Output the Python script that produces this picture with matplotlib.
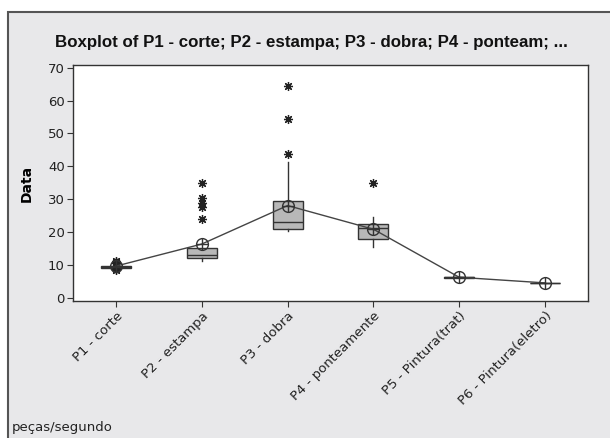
import matplotlib.pyplot as plt
import matplotlib.patches as patches
import numpy as np

categories = ['P1 - corte', 'P2 - estampa', 'P3 - dobra', 'P4 - ponteamente',
              'P5 - Pintura(trat)', 'P6 - Pintura(eletro)']
whislo = [9.1, 11.2, 20.4, 15.6, 6.2, 4.6]
q1 = [9.2, 12.1, 21.0, 17.9, 6.2, 4.6]
med = [9.4, 13.1, 23.1, 21.2, 6.3, 4.6]
q3 = [9.6, 15.3, 29.5, 22.5, 6.3, 4.7]
whishi = [9.8, 15.3, 41.4, 24.7, 6.4, 4.7]
means = [9.7, 16.4, 28.1, 20.9, 6.3, 4.6]
outliers = [[11.4, 10.9, 10.5, 8.4, 8.7],
            [34.9, 30.3, 29.0, 27.8, 23.9],
            [64.4, 54.4, 43.8],
            [34.9],
            [],
            []]
yticks = [0, 10, 20, 30, 40, 50, 60, 70]

stats = []
for i in range(len(categories)):
    stats.append(dict(label=categories[i], whislo=whislo[i], q1=q1[i], med=med[i],
                      q3=q3[i], whishi=whishi[i], fliers=outliers[i], mean=means[i]))

fig = plt.figure(figsize=(6.1, 4.38), dpi=100)
fig.patch.set_facecolor('white')
# grey frame of the Minitab window
frame = patches.Rectangle((8 / 610, -0.01), 1.0, 1 - 12 / 438 + 0.01,
                          transform=fig.transFigure, facecolor='#e8e8ea',
                          edgecolor='#555555', linewidth=1.5, zorder=-5)
fig.patches.append(frame)

ax = fig.add_axes([73 / 610, 1 - 301 / 438, (588 - 73) / 610, (301 - 65) / 438])
ax.set_facecolor('white')
pos = np.arange(1, len(categories) + 1)
ax.bxp(stats, positions=pos, widths=0.35, patch_artist=True, showcaps=False,
       boxprops=dict(facecolor='#b8b8b8', edgecolor='#333333', linewidth=1),
       medianprops=dict(color='#333333', linewidth=1),
       whiskerprops=dict(color='#333333', linewidth=1),
       flierprops=dict(marker=(8, 2, 0), markersize=6.5, markeredgecolor='#222222',
                       markeredgewidth=0.9, linestyle='none'))

# connect means
ax.plot(pos, means, color='#444444', linewidth=1, zorder=3)
ax.plot(pos, means, linestyle='none', marker='o', markersize=8.5, markerfacecolor='none',
        markeredgecolor='#333333', markeredgewidth=1, zorder=4)
ax.plot(pos, means, linestyle='none', marker='+', markersize=8.5,
        markeredgecolor='#333333', markeredgewidth=1, zorder=4)

ax.set_xlim(0.5, 6.5)
ax.set_ylim(-0.9, 70.8)
ax.set_yticks(yticks)
ax.set_xticks(pos)
ax.set_xticklabels(categories, rotation=45, ha='right', rotation_mode='anchor',
                   fontsize=9.5)
for tl in ax.get_yticklabels():
    tl.set_fontsize(9.5)
ax.tick_params(direction='out', length=4, color='#333333', labelcolor='#222222', pad=2)
for sp in ax.spines.values():
    sp.set_color('#333333')
    sp.set_linewidth(1)

ax.set_ylabel('Data', fontsize=10, fontweight='bold', labelpad=10)
fig.text(0.51, 1 - 42 / 438, 'Boxplot of P1 - corte; P2 - estampa; P3 - dobra; P4 - ponteam; ...',
         ha='center', va='center', fontsize=12.2, fontweight='bold',
         family='Liberation Sans', color='#111111')
fig.text(12 / 610, 1 - 428 / 438, 'peças/segundo', ha='left', va='center',
         fontsize=9.5, color='#222222')

plt.savefig('out.png', dpi=100)
